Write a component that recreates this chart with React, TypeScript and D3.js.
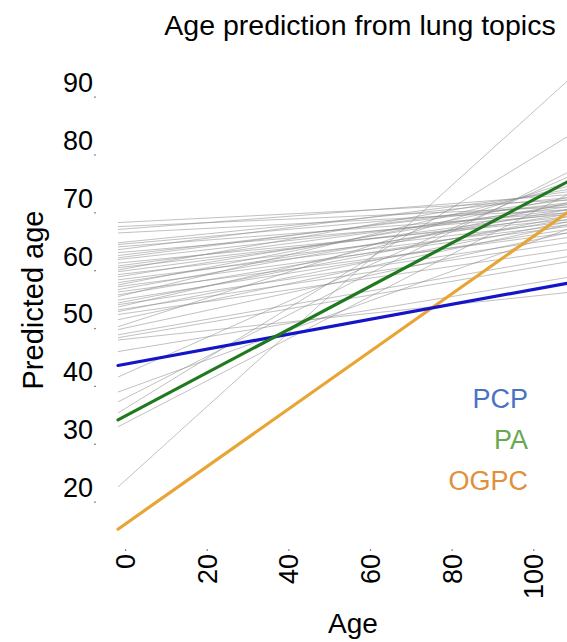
import React, { useEffect, useRef } from 'react';
import * as d3 from 'd3';

// predicted age at age 0 and at age 110, one entry per grey topic line
const greyStart = [
  68.3, 67.6, 67.1, 66.5, 64.8, 64.5, 64.1, 63.6, 63.1, 62.6, 62.2, 61.9, 61.3, 60.8, 60.5, 60.1,
  59.8, 59.3, 58.9, 58.4, 57.9, 57.5, 57.2, 56.7, 56.3, 55.8, 55.5, 54.9, 54.4, 54.1, 53.7, 53.2,
  52.9, 52.4, 51.5, 50.3, 49.8, 48.9, 48.4, 48.0, 46.0, 41.6, 39.0, 37.3, 35.4, 33.0, 22.6,
];
const greyEnd = [
  72.2, 71.0, 73.1, 70.5, 72.6, 71.4, 70.0, 73.6, 69.7, 71.7, 72.2, 70.5, 68.8, 71.0, 69.3, 74.0,
  70.0, 68.4, 71.4, 67.9, 69.7, 72.6, 67.6, 70.5, 66.5, 68.8, 74.5, 67.1, 69.3, 65.7, 71.7, 64.8,
  68.4, 63.6, 67.9, 75.2, 66.5, 62.4, 61.5, 56.2, 58.8, 76.1, 67.1, 76.9, 83.1, 73.1, 92.7,
];

const methods = ['PCP', 'PA', 'OGPC'];
const methodStart = [43.6, 34.2, 15.3];
const methodEnd = [57.8, 75.3, 70.0];
const lineColors = ['#1414c8', '#1f7a1f', '#e8a535'];
const labelColors = ['#4a72c4', '#6aa84f', '#e0903c'];
const drawOrder = [2, 0, 1];

const xTicks = [0, 20, 40, 60, 80, 100];
const yTicks = [20, 30, 40, 50, 60, 70, 80, 90];
const ageEnd = 110;

const W = 567;
const H = 642;
const font = 'Liberation Sans, Arial, Helvetica, sans-serif';

const App = () => {
  const svgRef = useRef<SVGSVGElement>(null);

  useEffect(() => {
    const svg = d3.select(svgRef.current);
    svg.selectAll('*').remove();

    const x = d3.scaleLinear().domain([0, ageEnd]).range([118, 567]);
    const y = d3.scaleLinear().domain([20, 90]).range([502, 97]);

    svg
      .append('text')
      .attr('x', 360)
      .attr('y', 35)
      .attr('text-anchor', 'middle')
      .style('font-family', font)
      .style('font-size', '28.5px')
      .text('Age prediction from lung topics');

    // y axis: tiny tick dots with labels sitting above them
    const yAxis = svg.append('g');
    yAxis
      .selectAll('rect')
      .data(yTicks)
      .enter()
      .append('rect')
      .attr('x', 94)
      .attr('y', (d) => y(d) - 0.5)
      .attr('width', 2)
      .attr('height', 1.2)
      .attr('fill', '#888');
    yAxis
      .selectAll('text')
      .data(yTicks)
      .enter()
      .append('text')
      .attr('x', 93)
      .attr('y', (d) => y(d) - 5)
      .attr('text-anchor', 'end')
      .style('font-family', font)
      .style('font-size', '27px')
      .text((d) => d);

    // x axis: rotated labels with a small tick just above each
    const xAxis = svg.append('g');
    xAxis
      .selectAll('rect')
      .data(xTicks)
      .enter()
      .append('rect')
      .attr('x', (d) => x(d) + 7)
      .attr('y', 549)
      .attr('width', 1.2)
      .attr('height', 2)
      .attr('fill', '#888');
    xAxis
      .selectAll('text')
      .data(xTicks)
      .enter()
      .append('text')
      .attr('transform', (d) => `translate(${x(d) + 17},554) rotate(-90)`)
      .attr('text-anchor', 'end')
      .style('font-family', font)
      .style('font-size', '27px')
      .text((d) => d);

    svg
      .append('text')
      .attr('x', 353)
      .attr('y', 633)
      .attr('text-anchor', 'middle')
      .style('font-family', font)
      .style('font-size', '28px')
      .text('Age');

    svg
      .append('text')
      .attr('transform', 'translate(43,300) rotate(-90)')
      .attr('text-anchor', 'middle')
      .style('font-family', font)
      .style('font-size', '29px')
      .text('Predicted age');

    const plot = svg.append('g');

    plot
      .selectAll('.grey')
      .data(greyStart.map((s, i) => [s, greyEnd[i]]))
      .enter()
      .append('line')
      .classed('grey', true)
      .attr('x1', x(0))
      .attr('y1', (d) => y(d[0]))
      .attr('x2', x(ageEnd))
      .attr('y2', (d) => y(d[1]))
      .attr('stroke', '#8c8c8c')
      .attr('stroke-opacity', 0.6)
      .attr('stroke-width', 0.9);

    plot
      .selectAll('.method')
      .data(drawOrder)
      .enter()
      .append('line')
      .classed('method', true)
      .attr('x1', x(0))
      .attr('y1', (i) => y(methodStart[i]))
      .attr('x2', x(ageEnd))
      .attr('y2', (i) => y(methodEnd[i]))
      .attr('stroke', (i) => lineColors[i])
      .attr('stroke-width', 3.2)
      .attr('stroke-linecap', 'round');

    svg
      .append('g')
      .selectAll('text')
      .data(methods)
      .enter()
      .append('text')
      .attr('x', 528)
      .attr('y', (d, i) => 408 + i * 41)
      .attr('text-anchor', 'end')
      .style('font-family', font)
      .style('font-size', '27px')
      .attr('fill', (d, i) => labelColors[i])
      .text((d) => d);
  }, []);

  return (
    <svg
      ref={svgRef}
      width={W}
      height={H}
      style={{ position: 'absolute', left: 0, top: 0, background: '#fff' }}
    />
  );
};

export default App;
